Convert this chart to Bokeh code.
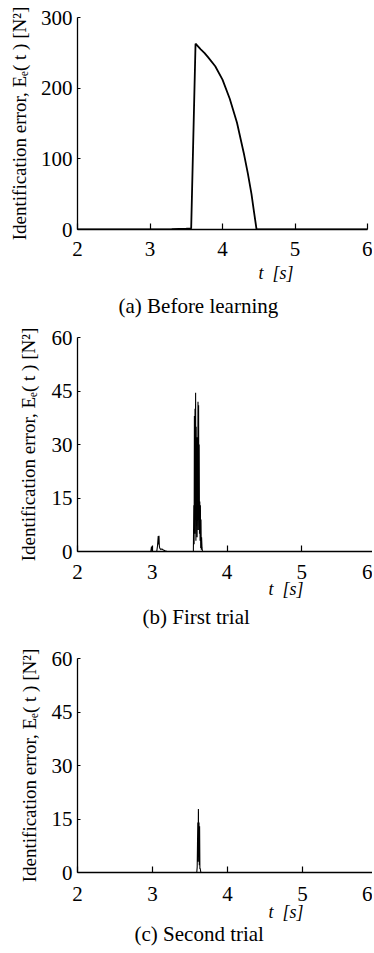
from bokeh.plotting import figure
from bokeh.models import Range1d, FixedTicker, Title
from bokeh.layouts import column
from bokeh.embed import file_html
from bokeh.resources import INLINE

# ---------------- data ----------------
x_ticks = [2, 3, 4, 5, 6]
y_ticks_a = [0, 100, 200, 300]
y_ticks_bc = [0, 15, 30, 45, 60]

# (a) Before learning
t_a = [2.0, 3.30, 3.40, 3.50, 3.568, 3.628, 3.70, 3.75, 3.80, 3.90, 4.00,
       4.10, 4.20, 4.30, 4.35, 4.40, 4.43, 4.47, 4.60, 6.0]
e_a = [0, 0.5, 1.0, 1.2, 1.5, 263, 255, 250, 244, 231, 212,
       185, 151, 105, 79, 50, 28, 0, 0, 0]

# (b) First trial
t_b = [2.00, 2.50, 2.98, 2.99, 3.00, 3.06, 3.07, 3.08, 3.085, 3.09,
       3.095, 3.10, 3.11, 3.13, 3.15, 3.17, 3.20, 3.55,
       3.556, 3.560, 3.564, 3.568, 3.572, 3.576, 3.580, 3.584, 3.588, 3.592,
       3.596, 3.600, 3.604, 3.608, 3.612, 3.616, 3.620, 3.624, 3.628, 3.632,
       3.636, 3.640, 3.644, 3.648, 3.652, 3.656, 3.660, 3.666, 3.672, 3.70,
       4.00, 6.00]
e_b = [0, 0, 0, 1.4, 0, 0, 1.5, 4.3, 2.0, 4.4,
       1.5, 1.0, 0.6, 0.7, 0.4, 0.2, 0, 0,
       13, 2, 38, 5, 40, 10, 44.5, 3, 35, 8,
       32, 4, 30, 12, 42, 6, 41, 9, 30, 5,
       14, 3, 13, 1, 9, 0.5, 4, 1, 0, 0,
       0, 0]

# (c) Second trial
t_c = [2.0, 3.59, 3.596, 3.600, 3.604, 3.608, 3.612, 3.616, 3.620, 3.624,
       3.628, 3.632, 3.636, 3.642, 3.65, 6.0]
e_c = [0, 0, 1.5, 8, 14, 3, 17.8, 6, 14, 2,
       13, 1, 1.2, 0.3, 0, 0]

y_label = "Identification error, E\u2091( t ) [N\u00b2]"
x_label = "t\u00a0\u00a0[s]"
captions = ["(a) Before learning", "(b) First trial", "(c) Second trial"]

SERIF = "Liberation Serif"


def panel(t, e, ymax, yticks, fw, fh, bl, bt, bb, xstand, ystand,
          xl_off, xl_stand, cap_off, cap_stand, caption, lw):
    p = figure(frame_width=fw, frame_height=fh,
               min_border_left=bl, min_border_right=5,
               min_border_top=bt, min_border_bottom=bb,
               x_range=Range1d(2, 6), y_range=Range1d(0, ymax),
               output_backend="svg", toolbar_location=None)
    p.line(t, e, line_color="black", line_width=lw)
    p.grid.visible = False
    p.outline_line_color = None
    p.background_fill_color = "white"
    p.border_fill_color = "white"

    for ax in (p.xaxis[0], p.yaxis[0]):
        ax.axis_line_color = "black"
        ax.axis_line_width = 1.3
        ax.major_tick_line_color = "black"
        ax.major_tick_line_width = 1.2
        ax.minor_tick_line_color = None
        ax.major_tick_out = 0
        ax.major_label_text_font = SERIF
        ax.major_label_text_font_size = "21px"
        ax.major_label_text_color = "black"

    p.xaxis.ticker = FixedTicker(ticks=x_ticks)
    p.xaxis.major_tick_in = 6
    p.xaxis.major_label_standoff = xstand

    p.yaxis.ticker = FixedTicker(ticks=yticks)
    p.yaxis.major_tick_in = 3
    p.yaxis.major_label_standoff = 5
    p.yaxis.axis_label = y_label
    p.yaxis.axis_label_text_font = SERIF
    p.yaxis.axis_label_text_font_style = "normal"
    p.yaxis.axis_label_text_font_size = "19px"
    p.yaxis.axis_label_text_color = "black"
    p.yaxis.axis_label_standoff = ystand

    p.add_layout(Title(text=x_label, align="left", offset=xl_off,
                       standoff=xl_stand, text_font=SERIF,
                       text_font_style="italic", text_font_size="18px",
                       text_color="black"), "below")
    p.add_layout(Title(text=caption, align="left", offset=cap_off,
                       standoff=cap_stand, text_font=SERIF,
                       text_font_style="normal", text_font_size="21px",
                       text_color="black"), "below")
    return p


pa = panel(t_a, e_a, 300, y_ticks_a, 290, 212, 77, 17, 97, 12, 8,
           181, 4, 41, 15, captions[0], 1.8)
pb = panel(t_b, e_b, 60, y_ticks_bc, 299, 214, 68, 11, 97, 13, 10,
           191, -10, 65, 19, captions[1], 1.1)
pc = panel(t_c, e_c, 60, y_ticks_bc, 300, 214, 67, 10, 79, 14, 9,
           191, -7, 57, 2, captions[2], 1.1)

layout = column(pa, pb, pc, spacing=0)

open("out.html", "w").write(file_html(layout, INLINE))
